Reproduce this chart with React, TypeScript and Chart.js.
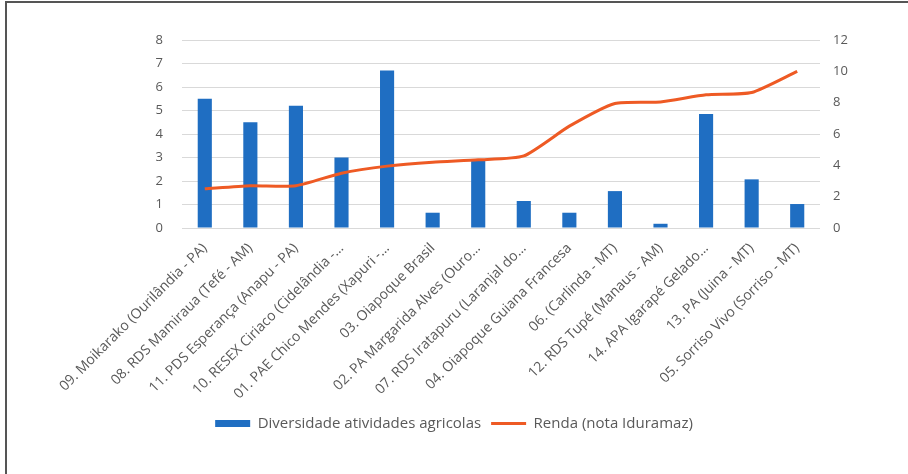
import React, { useEffect, useRef } from "react";
import { Chart, registerables } from "chart.js";

Chart.register(...registerables);

const categories: string[] = [
  "09. Moikarako (Ourilândia - PA)",
  "08. RDS Mamiraua (Tefé - AM)",
  "11. PDS Esperança (Anapu - PA)",
  "10. RESEX Ciriaco (Cidelândia -…",
  "01. PAE Chico Mendes (Xapuri -…",
  "03. Oiapoque Brasil",
  "02. PA Margarida Alves (Ouro…",
  "07. RDS Iratapuru (Laranjal do…",
  "04. Oiapoque Guiana Francesa",
  "06. (Carlinda - MT)",
  "12. RDS Tupé (Manaus - AM)",
  "14. APA Igarapé Gelado…",
  "13. PA (Juina - MT)",
  "05. Sorriso Vivo (Sorriso - MT)",
];

const diversidade: number[] = [5.5, 4.5, 5.2, 3.0, 6.7, 0.65, 2.9, 1.15, 0.65, 1.57, 0.18, 4.85, 2.07, 1.02];
const renda: number[] = [2.5, 2.7, 2.7, 3.5, 3.95, 4.2, 4.35, 4.6, 6.5, 7.95, 8.05, 8.5, 8.65, 10.0];

const seriesNames: string[] = ["Diversidade atividades agricolas", "Renda (nota Iduramaz)"];

const BLUE = "#1F6EC2";
const ORANGE = "#EE5A24";
const TEXT = "#595959";
const GRID = "#D9D9D9";
const FONT = "'Open Sans', 'Liberation Sans', sans-serif";

export default function App() {
  const ref = useRef<HTMLCanvasElement>(null);

  useEffect(() => {
    document.body.style.margin = "0";
    const ctx = ref.current;
    if (!ctx) return;
    const chart = new Chart(ctx, {
      type: "bar",
      data: {
        labels: categories,
        datasets: [
          {
            type: "bar",
            label: seriesNames[0],
            data: diversidade,
            backgroundColor: BLUE,
            borderWidth: 0,
            barPercentage: 0.31,
            categoryPercentage: 1,
            yAxisID: "y",
            order: 2,
            pointStyle: "rect",
          } as any,
          {
            type: "line",
            label: seriesNames[1],
            data: renda,
            borderColor: ORANGE,
            backgroundColor: ORANGE,
            borderWidth: 3,
            pointRadius: 0,
            tension: 0.2,
            yAxisID: "y1",
            order: 1,
            pointStyle: "line",
          } as any,
        ],
      },
      options: {
        animation: false,
        responsive: false,
        layout: { padding: { top: 40, bottom: 33, left: 0, right: 0 } },
        plugins: {
          tooltip: { enabled: false },
          legend: {
            position: "bottom",
            labels: {
              usePointStyle: true,
              pointStyleWidth: 35,
              boxHeight: 7,
              color: TEXT,
              font: { family: FONT, size: 15 },
              padding: 10,
              sort: (a: any, b: any) => a.datasetIndex - b.datasetIndex,
            },
          },
        },
        scales: {
          x: {
            grid: { display: false },
            border: { display: false },
            ticks: {
              color: TEXT,
              font: { family: FONT, size: 14 },
              minRotation: 45,
              maxRotation: 45,
              autoSkip: false,
              padding: 4,
            },
            afterFit: (s: any) => {
              s.height = 178;
            },
          },
          y: {
            position: "left",
            min: 0,
            max: 8,
            ticks: { stepSize: 1, color: TEXT, font: { family: FONT, size: 13 }, padding: 19 },
            grid: { color: GRID, drawTicks: false, lineWidth: 1 },
            border: { display: false },
            afterFit: (s: any) => {
              s.width = 182;
            },
          },
          y1: {
            position: "right",
            min: 0,
            max: 12,
            ticks: { stepSize: 2, color: TEXT, font: { family: FONT, size: 13 }, padding: 13 },
            grid: { drawOnChartArea: false, drawTicks: false },
            border: { display: false },
            afterFit: (s: any) => {
              s.width = 88;
            },
          },
        },
      } as any,
    });
    return () => chart.destroy();
  }, []);

  return (
    <div style={{ position: "relative", width: 908, height: 474, background: "#fff", overflow: "hidden" }}>
      <canvas ref={ref} width={908} height={474} style={{ display: "block" }} />
      <div
        style={{
          position: "absolute",
          left: 5,
          top: 1,
          width: 920,
          height: 480,
          borderTop: "2px solid #555",
          borderLeft: "2px solid #555",
          pointerEvents: "none",
        }}
      />
    </div>
  );
}
